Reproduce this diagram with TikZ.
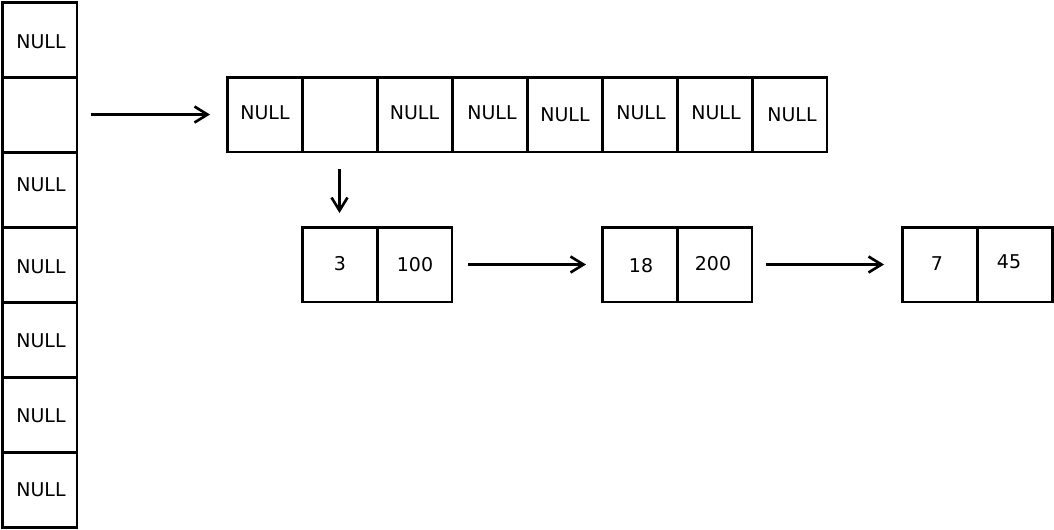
\documentclass[tikz,border=0pt]{standalone}
\usepackage{fontspec}
\setmainfont{DejaVu Sans}
\usetikzlibrary{arrows.meta}
\begin{document}
\begin{tikzpicture}[x=0.02cm,y=-0.02cm]
        %%边界
        \useasboundingbox (0,0) rectangle (1054,529);

        %%样式
        \tikzset{cell/.style = {draw, line width=1.7pt, minimum size=1.5cm, inner sep=0, outer sep=0}}
        \tikzset{txt/.style = {inner sep=0, font=\fontsize{10.8}{13}\selectfont}}
        \tikzset{link/.style = {line width=1.5pt, -{Straight Barb[length=2.6mm,width=3.2mm]}}}
        %文字微调 (px)
        \newcommand{\px}{0.02cm}

        %%左侧竖列
        \foreach \i/\txt/\dx/\dy in {1/NULL/1.5/2.5, 2/{}/0/0, 3/NULL/1.5/-4.5, 4/NULL/1.5/2.5, 5/NULL/1.5/1.5, 6/NULL/1.5/1.5, 7/NULL/1.5/0.5}
        {
            \node[cell] (c\i) at (39.5,{39.5+75*(\i-1)}) {};
            \node[txt, xshift=\dx*\px, yshift=-\dy*\px] (lc\i) at (c\i) {\txt};
        }

        %%上方横行
        \foreach \i/\txt/\dx/\dy in {1/NULL/0.5/-1.5, 2/{}/0/0, 3/NULL/0/-1.5, 4/NULL/2.5/-1.5, 5/NULL/0.5/0.5, 6/NULL/1.5/-1.5, 7/NULL/1.5/-1.5, 8/NULL/2.5/0.5}
        {
            \node[cell] (t\i) at ({264.5+75*(\i-1)},114.5) {};
            \node[txt, xshift=\dx*\px, yshift=-\dy*\px] (lt\i) at (t\i) {\txt};
        }

        %%链表结点
        \foreach \i/\x/\txt/\dx/\dy in {1/339.5/3/0.5/-0.5, 2/414.5/100/0.5/0.5, 3/639.5/18/1.5/1.5, 4/714.5/200/-1.5/-0.5, 5/939.5/7/-2.5/-0.5, 6/1014.5/45/-5.5/-2.5}
        {
            \node[cell] (n\i) at (\x,264.5) {};
            \node[txt, xshift=\dx*\px, yshift=-\dy*\px] (ln\i) at (n\i) {\txt};
        }

        %%箭头
        \draw[link, shorten <=0.28cm, shorten >=0.34cm] (c2.east) -- (t1.west);
        \draw[link, shorten <=0.34cm, shorten >=0.28cm] (t2.south) -- (n1.north);
        \draw[link, shorten <=0.32cm, shorten >=0.32cm] (n2.east) -- (n3.west);
        \draw[link, shorten <=0.28cm, shorten >=0.36cm] (n4.east) -- (n5.west);

\end{tikzpicture}
\end{document}
